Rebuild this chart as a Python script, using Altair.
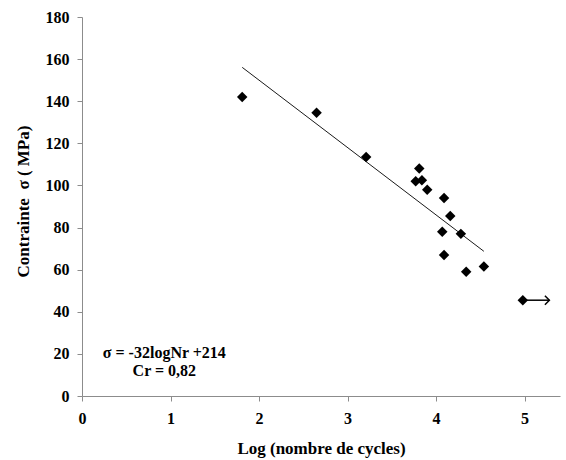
import altair as alt
import pandas as pd

# Fatigue test results: log of cycles to failure vs. applied stress (MPa)
log_cycles = [1.81, 2.65, 3.21, 3.81, 3.77, 3.84, 3.90, 4.09, 4.16, 4.07, 4.28, 4.09, 4.34, 4.54, 4.98]
stress = [142, 134.5, 113.5, 108, 102, 102.5, 98, 94, 85.5, 78, 77, 67, 59, 61.5, 45.5]

# Run-out specimen (no failure): arrow pointing to higher cycle counts
runout_start = [5.0]
runout_end = [5.28]
runout_stress = [45.5]

# Fitted law sigma = a * logNr + b, drawn over the tested range
fit_a, fit_b = -32, 214
fit_range = [1.81, 4.54]

x_ticks = [0, 1, 2, 3, 4, 5]
y_ticks = [0, 20, 40, 60, 80, 100, 120, 140, 160, 180]

FONT = "Liberation Serif"

pts = pd.DataFrame({"x": log_cycles, "y": stress})
fit = pd.DataFrame({"x": fit_range, "y": [fit_a * v + fit_b for v in fit_range]})
runout = pd.DataFrame({"x": runout_start, "x2": runout_end, "y": runout_stress})
notes = pd.DataFrame({"x": [0.93, 0.93], "y": [20.4, 12.0],
                      "t": ["σ = -32logNr +214", "Cr = 0,82"]})

xs = alt.Scale(domain=[0, 5.4], nice=False, zero=False)
ys = alt.Scale(domain=[0, 180], nice=False)

x_axis = alt.Axis(values=x_ticks, format="d", title="Log (nombre de cycles)",
                  grid=False, labelFlush=False, labelPadding=9, titlePadding=14)
y_axis = alt.Axis(values=y_ticks, title="Contrainte\u00a0\u00a0σ\u00a0( MPa)", grid=False,
                  labelPadding=8, labelFlush=False, titleX=-50, titleY=184)

points = alt.Chart(pts).mark_point(shape="diamond", filled=True, color="black",
                                   size=110, opacity=1).encode(
    x=alt.X("x:Q", scale=xs, axis=x_axis),
    y=alt.Y("y:Q", scale=ys, axis=y_axis),
)

line = alt.Chart(fit).mark_line(color="#1a1a1a", strokeWidth=1).encode(
    x=alt.X("x:Q", scale=xs), y=alt.Y("y:Q", scale=ys)
)

shaft = alt.Chart(runout).mark_rule(color="black", strokeWidth=1.5).encode(
    x=alt.X("x:Q", scale=xs), x2="x2:Q", y=alt.Y("y:Q", scale=ys)
)

head = alt.Chart(runout).mark_point(shape="M-1,-1L0,0L-1,1", filled=False,
                                    color="black", size=80, strokeWidth=1.5,
                                    opacity=1).encode(
    x=alt.X("x2:Q", scale=xs), y=alt.Y("y:Q", scale=ys)
)

text = alt.Chart(notes).mark_text(font=FONT, fontWeight="bold", fontSize=16,
                                  color="black", align="center",
                                  baseline="middle").encode(
    x=alt.X("x:Q", scale=xs), y=alt.Y("y:Q", scale=ys), text="t:N"
)

chart = alt.layer(line, points, shaft, head, text).properties(
    width=478, height=379,
    autosize=alt.AutoSizeParams(type="none"),
    padding={"left": 82, "top": 17, "right": 6, "bottom": 64},
    background="white",
).configure_view(stroke=None).configure_axis(
    domainColor="#8c8c8c", tickColor="#8c8c8c", tickSize=5,
    labelFont=FONT, labelFontSize=16, labelFontWeight="bold", labelColor="black",
    titleFont=FONT, titleFontSize=17, titleFontWeight="bold", titleColor="black",
)

chart.save("out.html", embed_options={"renderer": "svg", "actions": False})
